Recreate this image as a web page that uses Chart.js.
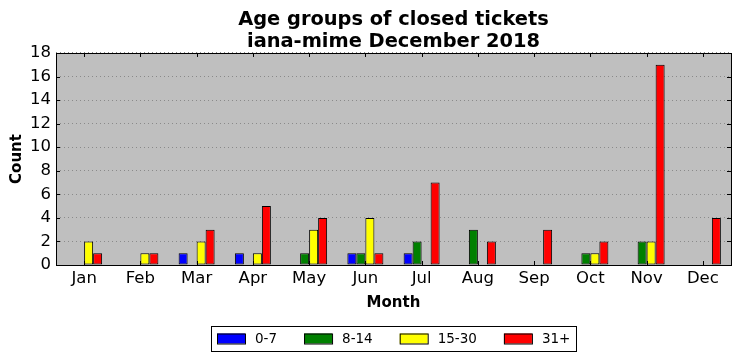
<!DOCTYPE html>
<html>
<head>
<meta charset="utf-8">
<script src="https://cdn.jsdelivr.net/npm/chart.js@4/dist/chart.umd.min.js"></script>
<style>
  html, body { margin: 0; padding: 0; background: #ffffff; }
  #chart { display: block; }
</style>
</head>
<body>
<canvas id="chart" width="741" height="361"></canvas>
<script>

/**
 * Data
 */
var months = ["Jan", "Feb", "Mar", "Apr", "May", "Jun", "Jul", "Aug", "Sep", "Oct", "Nov", "Dec"];
var groupNames = ["0-7", "8-14", "15-30", "31+"];

var age0to7   = [0, 0, 1, 1, 0, 1, 1, 0, 0, 0, 0, 0];
var age8to14  = [0, 0, 0, 0, 1, 1, 2, 3, 0, 1, 2, 0];
var age15to30 = [2, 1, 2, 1, 3, 4, 0, 0, 0, 1, 2, 0];
var age31plus = [1, 1, 3, 5, 4, 1, 7, 2, 3, 2, 17, 4];

var yTicks = [0, 2, 4, 6, 8, 10, 12, 14, 16, 18];

var titleLines = ["Age groups of closed tickets", "iana-mime December 2018"];

var colors = ["#0000ff", "#008000", "#ffff00", "#ff0000"];
var font = "'DejaVu Sans', sans-serif";

/**
 * grey plot background, black frame, inward ticks and the boxed legend
 */
var framePlugin = {
  id: "frame",
  beforeDraw: function(chart) {
    var a = chart.chartArea, ctx = chart.ctx;
    ctx.save();
    ctx.fillStyle = "#bfbfbf";
    ctx.fillRect(a.left, a.top, a.right - a.left, a.bottom - a.top);
    ctx.restore();
  },
  afterDraw: function(chart) {
    var a = chart.chartArea, ctx = chart.ctx;
    var xs = chart.scales.x, ys = chart.scales.y;
    var len = 4;

    ctx.save();
    ctx.strokeStyle = "#000000";
    ctx.lineWidth = 1;
    ctx.beginPath();

    for (var i = 0; i < xs.ticks.length; i++) {
      var px = Math.round(xs.getPixelForTick(i)) + 0.5;
      ctx.moveTo(px, a.bottom); ctx.lineTo(px, a.bottom - len);
      ctx.moveTo(px, a.top); ctx.lineTo(px, a.top + len);
    }
    for (var j = 0; j < ys.ticks.length; j++) {
      var py = Math.round(ys.getPixelForTick(j)) + 0.5;
      ctx.moveTo(a.left, py); ctx.lineTo(a.left + len, py);
      ctx.moveTo(a.right, py); ctx.lineTo(a.right - len, py);
    }
    ctx.stroke();

    ctx.strokeRect(Math.round(a.left) + 0.5, Math.round(a.top) + 0.5,
                   Math.round(a.right - a.left), Math.round(a.bottom - a.top));

    /**
     * legend
     */
    ctx.font = "13.5px " + font;
    var sw = 28, sh = 10, gap = 10, spacing = 27, pad = 6;
    var widths = [], total = pad * 2;
    for (var k = 0; k < groupNames.length; k++) {
      widths[k] = ctx.measureText(groupNames[k]).width;
      total += sw + gap + widths[k];
    }
    total += spacing * (groupNames.length - 1);

    var boxLeft = Math.round((a.left + a.right) / 2 - total / 2);
    var boxTop = 326, boxH = 25;
    var cy = boxTop + boxH / 2;

    ctx.strokeRect(boxLeft + 0.5, boxTop + 0.5, Math.round(total), boxH);

    var x = boxLeft + pad;
    ctx.textBaseline = "middle";
    ctx.textAlign = "left";
    for (var m = 0; m < groupNames.length; m++) {
      ctx.fillStyle = colors[m];
      ctx.fillRect(x, cy - sh / 2, sw, sh);
      ctx.strokeRect(x + 0.5, cy - sh / 2 + 0.5, sw, sh);
      ctx.fillStyle = "#000000";
      ctx.fillText(groupNames[m], x + sw + gap, cy + 1);
      x += sw + gap + widths[m] + spacing;
    }
    ctx.restore();
  }
};

var seriesValues = [age0to7, age8to14, age15to30, age31plus];
var datasets = [];
for (var s = 0; s < seriesValues.length; s++) {
  datasets.push({
    label: groupNames[s],
    data: seriesValues[s],
    backgroundColor: colors[s],
    borderColor: "#000000",
    borderWidth: 1,
    borderSkipped: false,
    barPercentage: 1.0,
    categoryPercentage: 0.64
  });
}

new Chart(document.getElementById("chart").getContext("2d"), {
  type: "bar",
  data: { labels: months, datasets: datasets },
  plugins: [framePlugin],
  options: {
    responsive: false,
    animation: false,
    devicePixelRatio: 1,
    layout: { padding: { left: 0, right: 10, top: 0, bottom: 46 } },
    plugins: {
      legend: { display: false },
      tooltip: { enabled: false },
      title: {
        display: true,
        fullSize: false,
        text: titleLines,
        color: "#000000",
        font: { family: font, size: 19.4, weight: "bold", lineHeight: 1.12 },
        padding: { top: 9.5, bottom: 0 }
      }
    },
    scales: {
      x: {
        afterFit: function(scale) { scale.height = 50; },
        grid: { display: false, drawTicks: false },
        border: { display: false },
        ticks: { color: "#000000", font: { family: font, size: 16.5 }, padding: 4, maxRotation: 0 },
        title: {
          display: true, text: "Month", color: "#000000",
          font: { family: font, size: 15, weight: "bold", lineHeight: 1.2 },
          padding: { top: 0, bottom: 3 }
        }
      },
      y: {
        min: 0,
        max: 18,
        afterFit: function(scale) { scale.width = 56; },
        afterBuildTicks: function(scale) {
          scale.ticks = yTicks.map(function(v) { return { value: v }; });
        },
        grid: { color: "#8a8a8a", lineWidth: 1, drawTicks: false },
        border: { display: false, dash: [1, 3] },
        ticks: { color: "#000000", font: { family: font, size: 16.5 }, padding: 5 },
        title: {
          display: true, text: "Count", color: "#000000",
          font: { family: font, size: 15, weight: "bold", lineHeight: 1.2 },
          padding: { top: 8, bottom: 0 }
        }
      }
    }
  }
});
</script>
</body>
</html>
